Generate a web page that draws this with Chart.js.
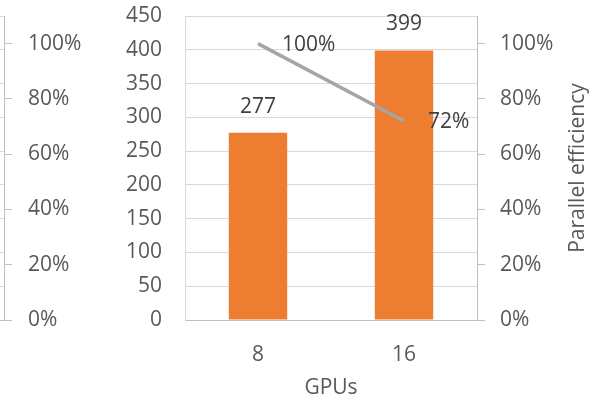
<!DOCTYPE html>
<html>
<head>
<meta charset="utf-8">
<script src="https://cdn.jsdelivr.net/npm/chart.js@4.4.1/dist/chart.umd.min.js"></script>
<style>
html,body{margin:0;padding:0;background:#fff;overflow:hidden;}
#wrap{position:relative;width:610px;height:401px;overflow:hidden;}
#main{position:absolute;left:0;top:0;}
#strip{position:absolute;left:-200px;top:0;}
</style>
</head>
<body>
<div id="wrap">
<canvas id="main" width="610" height="401"></canvas>
<canvas id="strip" width="320" height="401"></canvas>
</div>
<script>
// ---- data ----
const categories = ['8', '16'];
const throughput = [277, 399];
const efficiency = [1.00, 0.72];
const countTicks = { min: 0, max: 450, step: 50 };
const pctTicks = { min: 0, max: 1.1, step: 0.2 };
const xTitle = 'GPUs';
const y1Title = 'Parallel efficiency';

const FONT = "'Open Sans', sans-serif";
const FS = 21;
const TXT = '#595959';
const LBL = '#404040';
const GRID = '#D9D9D9';
const AXIS = '#BFBFBF';
Chart.defaults.font.family = FONT;
Chart.defaults.font.size = FS;
Chart.defaults.color = TXT;

const pctFmt = v => Math.round(v * 100) + '%';
const fixY = w => s => { s.width = w; s.paddingTop = 0; s.paddingBottom = 0; };
const fixX = h => s => { s.height = h; s.paddingLeft = 0; s.paddingRight = 0; };

const labelPlugin = {
  id: 'dataLabels',
  afterDatasetsDraw(chart) {
    const ctx = chart.ctx;
    ctx.save();
    ctx.font = FS + 'px ' + FONT;
    ctx.fillStyle = LBL;
    ctx.textBaseline = 'middle';
    const barMeta = chart.getDatasetMeta(0);
    barMeta.data.forEach((el, i) => {
      ctx.textAlign = 'center';
      ctx.fillText(String(throughput[i]), el.x, el.y - 26);
    });
    const lineMeta = chart.getDatasetMeta(1);
    lineMeta.data.forEach((el, i) => {
      ctx.textAlign = 'left';
      ctx.fillText(pctFmt(efficiency[i]), el.x + 24, el.y + 1);
    });
    // right axis title (reads bottom-to-top)
    const s = chart.scales.y1;
    const ca = chart.chartArea;
    ctx.fillStyle = TXT;
    ctx.translate(s.left + 101, (ca.top + ca.bottom) / 2);
    ctx.rotate(-Math.PI / 2);
    ctx.textAlign = 'center';
    ctx.fillText(y1Title, 0, 0);
    ctx.restore();
  }
};

new Chart(document.getElementById('main'), {
  data: {
    labels: categories,
    datasets: [
      {
        type: 'bar',
        data: throughput,
        backgroundColor: '#ED7D31',
        barPercentage: 0.4,
        categoryPercentage: 1.0,
        yAxisID: 'y',
        order: 2
      },
      {
        type: 'line',
        data: efficiency,
        borderColor: '#A5A5A5',
        borderWidth: 3.5,
        pointRadius: 0,
        pointHoverRadius: 0,
        tension: 0,
        yAxisID: 'y1',
        order: 1
      }
    ]
  },
  options: {
    responsive: false,
    animation: false,
    events: [],
    layout: { padding: { top: 16, left: 0, right: 0, bottom: 0 } },
    plugins: { legend: { display: false }, tooltip: { enabled: false } },
    scales: {
      x: {
        offset: true,
        grid: { display: false },
        border: { display: true, color: AXIS, width: 1 },
        ticks: { color: TXT, padding: 14 },
        title: { display: true, text: xTitle, color: TXT, padding: { top: 0, bottom: 0 } },
        afterFit: fixX(81)
      },
      y: {
        position: 'left',
        min: countTicks.min,
        max: countTicks.max,
        grid: { color: GRID, drawTicks: false, lineWidth: 1 },
        border: { display: true, color: GRID, width: 1 },
        ticks: { stepSize: countTicks.step, color: TXT, padding: 23 },
        afterFit: fixY(185)
      },
      y1: {
        position: 'right',
        min: pctTicks.min,
        max: pctTicks.max,
        grid: { drawOnChartArea: false, drawTicks: true, tickLength: 8, color: AXIS },
        border: { display: true, color: AXIS, width: 1 },
        ticks: { stepSize: pctTicks.step, includeBounds: false, color: TXT, padding: 15, callback: pctFmt },
        afterFit: fixY(133)
      }
    }
  },
  plugins: [labelPlugin]
});

// cropped neighbouring chart on the far left: only its right edge is visible
new Chart(document.getElementById('strip'), {
  data: {
    labels: categories,
    datasets: [
      { type: 'bar', data: [], yAxisID: 'y' },
      { type: 'line', data: [], yAxisID: 'y1' }
    ]
  },
  options: {
    responsive: false,
    animation: false,
    events: [],
    layout: { padding: { top: 16, left: 0, right: 0, bottom: 0 } },
    plugins: { legend: { display: false }, tooltip: { enabled: false } },
    scales: {
      x: {
        grid: { display: false },
        border: { display: true, color: AXIS, width: 1 },
        ticks: { display: false },
        afterFit: fixX(81)
      },
      y: {
        position: 'left',
        min: countTicks.min,
        max: countTicks.max,
        grid: { color: GRID, drawTicks: false },
        border: { display: false },
        ticks: { display: false, stepSize: countTicks.step },
        afterFit: fixY(0)
      },
      y1: {
        position: 'right',
        min: pctTicks.min,
        max: pctTicks.max,
        grid: { drawOnChartArea: false, drawTicks: true, tickLength: 8, color: AXIS },
        border: { display: true, color: AXIS, width: 1 },
        ticks: { stepSize: pctTicks.step, includeBounds: false, color: TXT, padding: 16, callback: pctFmt },
        afterFit: fixY(116)
      }
    }
  }
});
</script>
</body>
</html>
